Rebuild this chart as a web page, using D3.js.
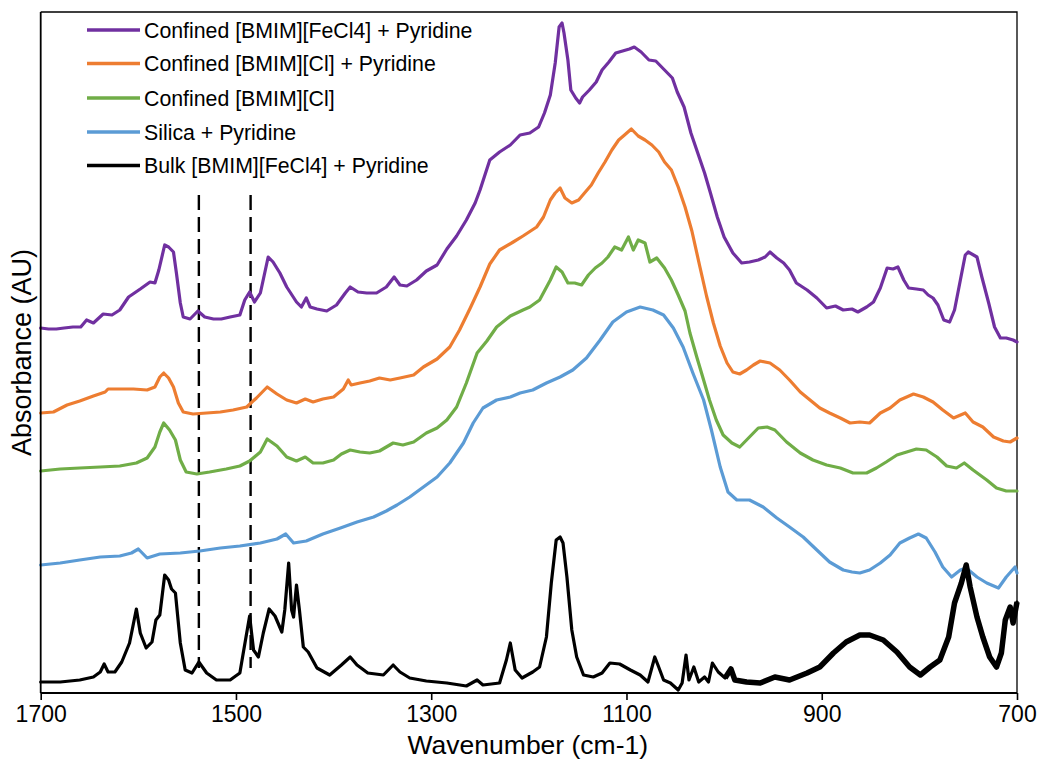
<!DOCTYPE html>
<html>
<head>
<meta charset="utf-8">
<script src="https://cdn.jsdelivr.net/npm/d3@7"></script>
<style>
  html, body { margin: 0; padding: 0; background: #fff; }
  svg { display: block; font-family: Arial, "Liberation Sans", sans-serif; }
</style>
</head>
<body>
<svg id="chart" width="1039" height="763"></svg>
<script>
// FTIR spectra: [wavenumber (cm-1), absorbance (AU, stacked offsets)]
const confinedFeCl4Pyr = [
  [1700,3.65],[1692,3.64],[1684,3.64],[1676,3.65],[1667,3.66],[1659,3.66],[1653,3.73],[1646,3.70],
  [1636,3.79],[1627,3.78],[1619,3.83],[1610,3.96],[1598,4.04],[1588,4.11],[1583,4.10],[1579,4.23],
  [1573,4.48],[1569,4.46],[1564,4.41],[1561,4.20],[1557,3.90],[1554,3.76],[1547,3.74],[1539,3.82],
  [1532,3.76],[1523,3.74],[1515,3.74],[1506,3.76],[1496,3.78],[1491,3.93],[1486,4.01],[1481,3.91],
  [1475,4.00],[1467,4.36],[1462,4.31],[1455,4.20],[1448,4.06],[1438,3.91],[1433,3.86],[1428,3.95],
  [1424,3.86],[1417,3.84],[1407,3.82],[1397,3.88],[1388,4.00],[1383,4.06],[1375,4.01],[1366,4.00],
  [1356,4.00],[1346,4.06],[1338,4.16],[1332,4.08],[1325,4.07],[1315,4.13],[1305,4.22],[1294,4.28],
  [1284,4.44],[1274,4.57],[1264,4.73],[1255,4.90],[1250,5.03],[1240,5.33],[1230,5.41],[1219,5.48],
  [1209,5.58],[1199,5.60],[1190,5.66],[1184,5.80],[1178,5.98],[1173,6.30],[1169,6.66],[1166,6.70],
  [1164,6.60],[1160,6.33],[1157,6.03],[1152,5.95],[1148,5.90],[1145,5.96],[1138,6.03],[1131,6.11],
  [1125,6.23],[1118,6.31],[1111,6.40],[1104,6.42],[1097,6.44],[1092,6.46],[1085,6.41],[1077,6.33],
  [1070,6.32],[1061,6.23],[1053,6.15],[1048,6.01],[1041,5.86],[1034,5.60],[1027,5.40],[1020,5.20],
  [1014,5.00],[1007,4.76],[1000,4.56],[991,4.40],[982,4.30],[974,4.31],[965,4.33],[958,4.36],
  [953,4.41],[946,4.35],[939,4.30],[933,4.23],[926,4.10],[915,4.03],[905,3.95],[895,3.85],
  [886,3.87],[878,3.83],[869,3.84],[863,3.81],[854,3.86],[847,3.91],[840,4.05],[833,4.25],
  [827,4.24],[822,4.26],[816,4.13],[811,4.05],[803,4.04],[796,4.03],[791,3.98],[786,3.95],
  [781,3.88],[775,3.73],[769,3.71],[764,3.83],[758,4.13],[753,4.38],[750,4.41],[741,4.36],
  [736,4.16],[729,3.90],[723,3.66],[717,3.55],[711,3.55],[704,3.53],[700,3.51]
];

const confinedClPyr = [
  [1700,2.80],[1687,2.81],[1673,2.88],[1660,2.92],[1646,2.97],[1634,3.01],[1631,3.04],[1619,3.04],
  [1605,3.04],[1591,3.03],[1583,3.06],[1578,3.16],[1574,3.20],[1569,3.15],[1564,3.06],[1559,2.90],
  [1554,2.81],[1544,2.79],[1530,2.80],[1516,2.81],[1503,2.83],[1489,2.86],[1479,2.95],[1468,3.06],
  [1458,2.99],[1448,2.93],[1438,2.90],[1429,2.94],[1421,2.91],[1411,2.94],[1400,2.96],[1390,3.04],
  [1385,3.13],[1382,3.08],[1373,3.10],[1363,3.12],[1353,3.15],[1342,3.13],[1332,3.15],[1318,3.18],
  [1308,3.26],[1294,3.34],[1281,3.46],[1271,3.63],[1260,3.85],[1250,4.06],[1240,4.29],[1230,4.43],
  [1216,4.51],[1206,4.57],[1192,4.66],[1185,4.76],[1178,4.93],[1173,5.00],[1168,5.05],[1163,4.95],
  [1156,4.90],[1149,4.93],[1143,5.00],[1136,5.08],[1129,5.20],[1122,5.31],[1115,5.43],[1108,5.53],
  [1102,5.58],[1095,5.64],[1088,5.57],[1081,5.53],[1074,5.48],[1067,5.41],[1061,5.31],[1054,5.23],
  [1047,5.06],[1040,4.86],[1033,4.62],[1025,4.27],[1018,3.97],[1011,3.70],[1004,3.47],[997,3.30],
  [991,3.21],[984,3.19],[977,3.23],[970,3.28],[963,3.32],[953,3.30],[943,3.23],[933,3.13],
  [922,3.01],[912,2.93],[902,2.85],[892,2.80],[881,2.75],[871,2.70],[861,2.71],[851,2.70],
  [840,2.80],[830,2.85],[820,2.93],[806,2.99],[796,2.96],[786,2.91],[776,2.83],[765,2.75],
  [753,2.80],[745,2.71],[735,2.66],[724,2.56],[714,2.52],[707,2.51],[700,2.55]
];

const confinedCl = [
  [1700,2.22],[1680,2.24],[1660,2.25],[1639,2.26],[1619,2.27],[1602,2.30],[1591,2.35],[1583,2.46],
  [1578,2.61],[1574,2.70],[1568,2.63],[1562,2.53],[1557,2.33],[1551,2.21],[1540,2.19],[1527,2.21],
  [1510,2.24],[1496,2.27],[1486,2.32],[1475,2.41],[1468,2.54],[1458,2.47],[1448,2.36],[1438,2.32],
  [1429,2.36],[1421,2.30],[1411,2.30],[1400,2.33],[1392,2.39],[1383,2.43],[1373,2.41],[1363,2.40],
  [1353,2.42],[1339,2.50],[1329,2.48],[1318,2.51],[1305,2.60],[1294,2.65],[1284,2.73],[1274,2.86],
  [1264,3.10],[1253,3.40],[1243,3.52],[1233,3.66],[1219,3.77],[1206,3.83],[1199,3.86],[1189,3.93],
  [1178,4.13],[1172,4.26],[1166,4.21],[1160,4.10],[1153,4.10],[1146,4.08],[1139,4.18],[1132,4.25],
  [1125,4.30],[1119,4.36],[1112,4.46],[1105,4.43],[1098,4.56],[1093,4.43],[1088,4.53],[1081,4.50],
  [1076,4.31],[1069,4.35],[1061,4.25],[1054,4.13],[1047,3.98],[1040,3.82],[1035,3.60],[1028,3.36],
  [1021,3.13],[1015,2.93],[1008,2.73],[1001,2.58],[992,2.50],[984,2.46],[974,2.56],[965,2.65],
  [956,2.66],[948,2.63],[936,2.51],[922,2.40],[909,2.33],[895,2.28],[881,2.25],[868,2.20],
  [854,2.20],[844,2.25],[834,2.31],[823,2.38],[813,2.41],[803,2.44],[793,2.43],[782,2.36],
  [772,2.27],[762,2.25],[754,2.30],[745,2.23],[731,2.13],[721,2.05],[711,2.02],[700,2.02]
];

const silicaPyr = [
  [1700,1.28],[1680,1.30],[1660,1.33],[1639,1.36],[1619,1.37],[1607,1.40],[1600,1.44],[1591,1.35],
  [1578,1.39],[1557,1.40],[1537,1.42],[1516,1.45],[1496,1.47],[1475,1.50],[1458,1.54],[1449,1.59],
  [1441,1.50],[1428,1.52],[1411,1.59],[1393,1.65],[1376,1.71],[1359,1.76],[1346,1.82],[1335,1.88],
  [1322,1.96],[1308,2.06],[1294,2.16],[1281,2.30],[1267,2.50],[1257,2.70],[1247,2.85],[1233,2.93],
  [1219,2.96],[1209,3.00],[1196,3.03],[1182,3.10],[1168,3.16],[1155,3.23],[1141,3.35],[1127,3.53],
  [1114,3.71],[1100,3.81],[1086,3.86],[1073,3.83],[1062,3.78],[1052,3.65],[1042,3.46],[1032,3.20],
  [1021,2.93],[1013,2.63],[1004,2.26],[996,2.01],[987,1.93],[974,1.93],[960,1.86],[946,1.75],
  [933,1.66],[919,1.56],[905,1.43],[892,1.31],[878,1.23],[869,1.21],[861,1.20],[851,1.23],
  [840,1.30],[830,1.38],[820,1.50],[810,1.55],[801,1.59],[793,1.55],[784,1.41],[776,1.26],
  [767,1.16],[758,1.23],[752,1.25],[741,1.16],[731,1.10],[719,1.05],[711,1.16],[702,1.26],[700,1.20]
];

const bulkFeCl4Pyr = [
  [1700,0.11],[1690,0.11],[1680,0.11],[1670,0.12],[1660,0.13],[1646,0.16],[1639,0.21],[1635,0.29],
  [1631,0.21],[1624,0.21],[1617,0.31],[1609,0.50],[1602,0.84],[1598,0.60],[1592,0.45],[1586,0.51],
  [1582,0.73],[1578,0.78],[1573,1.18],[1569,1.13],[1566,1.04],[1562,1.00],[1557,0.50],[1552,0.23],
  [1545,0.20],[1538,0.31],[1530,0.20],[1520,0.13],[1506,0.13],[1496,0.20],[1492,0.43],[1486,0.77],
  [1482,0.43],[1477,0.36],[1472,0.60],[1466,0.84],[1460,0.77],[1453,0.61],[1450,0.83],[1446,1.30],
  [1443,0.83],[1441,0.76],[1438,1.08],[1435,0.83],[1431,0.46],[1426,0.41],[1417,0.25],[1404,0.18],
  [1392,0.28],[1383,0.36],[1376,0.28],[1365,0.20],[1349,0.18],[1339,0.28],[1332,0.21],[1322,0.15],
  [1305,0.12],[1284,0.10],[1264,0.07],[1253,0.13],[1247,0.08],[1230,0.10],[1223,0.33],[1219,0.50],
  [1214,0.23],[1207,0.15],[1196,0.21],[1189,0.26],[1182,0.56],[1177,1.10],[1172,1.53],[1168,1.56],
  [1165,1.50],[1161,1.16],[1156,0.63],[1151,0.36],[1144,0.18],[1134,0.16],[1125,0.20],[1117,0.30],
  [1107,0.29],[1096,0.23],[1086,0.18],[1078,0.11],[1071,0.36],[1067,0.26],[1062,0.13],[1055,0.10],
  [1047,0.03],[1043,0.10],[1039,0.38],[1036,0.13],[1031,0.26],[1026,0.11],[1020,0.16],[1016,0.11],
  [1012,0.30],[1006,0.21],[999,0.15],[993,0.24],[989,0.13],[977,0.11],[963,0.10],[948,0.16],
  [933,0.13],[915,0.20],[902,0.26],[888,0.40],[875,0.51],[861,0.58],[851,0.58],[837,0.53],
  [823,0.41],[810,0.26],[799,0.18],[789,0.26],[779,0.33],[770,0.56],[764,0.90],[757,1.10],
  [752,1.28],[748,1.06],[741,0.76],[735,0.56],[728,0.36],[721,0.26],[716,0.40],[712,0.73],
  [707,0.86],[704,0.70],[700,0.91]
];

const seriesNames = [
  "Confined [BMIM][FeCl4] + Pyridine",
  "Confined [BMIM][Cl] + Pyridine",
  "Confined [BMIM][Cl]",
  "Silica + Pyridine",
  "Bulk [BMIM][FeCl4] + Pyridine"
];
const seriesColors = ["#7030A0", "#ED7D31", "#70AD47", "#5B9BD5", "#000000"];
const seriesData = [confinedFeCl4Pyr, confinedClPyr, confinedCl, silicaPyr, bulkFeCl4Pyr];

const xTicks = [1700, 1500, 1300, 1100, 900, 700];
const markerLines = [1538, 1485];          // dashed reference wavenumbers
const markerSpan = [0.25, 4.98];           // vertical extent of the dashed lines (AU)

const svg = d3.select("#chart");
const plot = { left: 40.7, right: 1017, top: 12, bottom: 693 };

const x = d3.scaleLinear().domain([1700, 700]).range([plot.left, plot.right]);
const y = d3.scaleLinear().domain([0, 6.81]).range([plot.bottom, plot.top]);

// Plot frame (top / right)
svg.append("path")
  .attr("d", `M${plot.left},${plot.top}H${plot.right}V${plot.bottom}`)
  .attr("fill", "none").attr("stroke", "#000").attr("stroke-width", 1.3);

// Dashed markers
markerLines.forEach(w => {
  svg.append("line")
    .attr("x1", x(w)).attr("x2", x(w))
    .attr("y1", y(markerSpan[1])).attr("y2", y(markerSpan[0]))
    .attr("stroke", "#000").attr("stroke-width", 2.4)
    .attr("stroke-dasharray", "15,7");
});

const line = d3.line().x(d => x(d[0])).y(d => y(d[1]));

// Spectra, bulk sample drawn last
seriesData.forEach((data, i) => {
  svg.append("path")
    .datum(data)
    .attr("d", line)
    .attr("fill", "none")
    .attr("stroke", seriesColors[i])
    .attr("stroke-width", 3.2)
    .attr("stroke-linejoin", "round")
    .attr("stroke-linecap", "round");
});

// Noisy low-wavenumber region of the bulk spectrum renders as a heavier trace
svg.append("path")
  .datum(bulkFeCl4Pyr.filter(d => d[0] <= 1005))
  .attr("d", line)
  .attr("fill", "none")
  .attr("stroke", "#000")
  .attr("stroke-width", 5.5)
  .attr("stroke-linejoin", "round");

// Axes
const xAxis = svg.append("g")
  .attr("transform", `translate(0,${plot.bottom})`)
  .call(d3.axisBottom(x).tickValues(xTicks).tickSize(7).tickPadding(6).tickFormat(d3.format("d")));
xAxis.select(".domain").attr("stroke-width", 1.8).attr("d", `M${plot.left},0H${plot.right}`);
xAxis.selectAll(".tick line").attr("stroke-width", 1.6);
xAxis.selectAll(".tick text").attr("font-size", 23).attr("fill", "#000")
  .attr("font-family", "Arial, 'Liberation Sans', sans-serif");

svg.append("line")
  .attr("x1", plot.left).attr("x2", plot.left)
  .attr("y1", plot.top).attr("y2", plot.bottom)
  .attr("stroke", "#000").attr("stroke-width", 1.8);

// Axis titles
svg.append("text")
  .attr("x", (plot.left + plot.right) / 2 - 1).attr("y", 754)
  .attr("text-anchor", "middle").attr("font-size", 26.5).attr("fill", "#000")
  .text("Wavenumber (cm-1)");

svg.append("text")
  .attr("transform", `translate(31,${(plot.top + plot.bottom) / 2}) rotate(-90)`)
  .attr("text-anchor", "middle").attr("font-size", 27).attr("fill", "#000")
  .text("Absorbance (AU)");

// Legend
const legend = svg.append("g");
const legendRows = [30, 63.5, 98, 132, 165.5];
seriesNames.forEach((name, i) => {
  const g = legend.append("g").attr("transform", `translate(0,${legendRows[i]})`);
  g.append("line").attr("x1", 87).attr("x2", 140).attr("y1", 0).attr("y2", 0)
    .attr("stroke", seriesColors[i]).attr("stroke-width", 3.4);
  g.append("text").attr("x", 144).attr("y", 0).attr("dy", "0.36em")
    .attr("font-size", 21.3).attr("fill", "#000").text(name);
});
</script>
</body>
</html>
